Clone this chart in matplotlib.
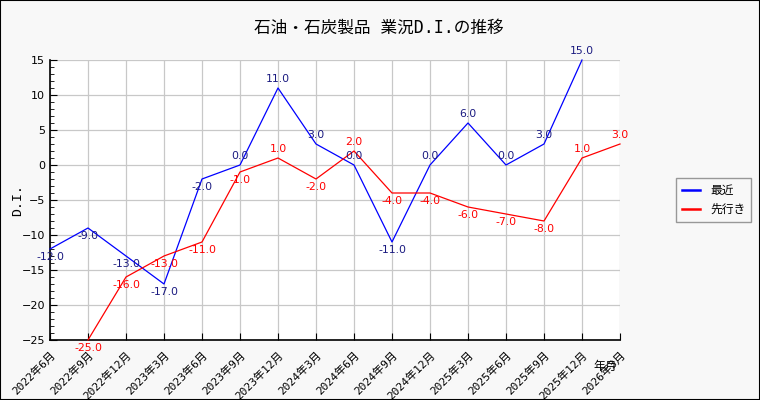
import matplotlib
matplotlib.use("Agg")
import matplotlib.pyplot as plt
from matplotlib.ticker import MultipleLocator
import numpy as np

plt.rcParams['font.family'] = ['DejaVu Sans', 'Noto Sans CJK JP']

categories = ["2022年6月", "2022年9月", "2022年12月", "2023年3月", "2023年6月",
              "2023年9月", "2023年12月", "2024年3月", "2024年6月", "2024年9月",
              "2024年12月", "2025年3月", "2025年6月", "2025年9月", "2025年12月",
              "2026年3月"]
recent = [-12, -9, -13, -17, -2, 0, 11, 3, 0, -11, 0, 6, 0, 3, 15, None]
outlook = [None, -25, -16, -13, -11, -1, 1, -2, 2, -4, -4, -6, -7, -8, 1, 3]

title = "石油・石炭製品 業況D.I.の推移"
series_names = ["最近", "先行き"]

fig = plt.figure(figsize=(7.6, 4.0), dpi=100, facecolor='#f8f8f8')
fig.patches.append(plt.Rectangle((0, 0), 1, 1, transform=fig.transFigure,
                                 fill=False, edgecolor='black', linewidth=1.5))
ax = fig.add_axes([50/760, 1-340/400, 570/760, 280/400])
ax.set_facecolor('white')

x = np.arange(len(categories))

def plot_series(vals, color, label_color, name):
    xs = [i for i, v in enumerate(vals) if v is not None]
    ys = [v for v in vals if v is not None]
    ax.plot(xs, ys, color=color, linewidth=0.9, label=name, clip_on=False, zorder=3)
    for xi, yi in zip(xs, ys):
        if yi >= 0:
            ax.annotate(f"{yi:.1f}", (xi, yi), xytext=(0, 3), textcoords='offset points',
                        ha='center', va='bottom', color=label_color, fontsize=7.8,
                        annotation_clip=False, zorder=4)
        else:
            ax.annotate(f"{yi:.1f}", (xi, yi), xytext=(0, -2), textcoords='offset points',
                        ha='center', va='top', color=label_color, fontsize=7.8,
                        annotation_clip=False, zorder=4)

plot_series(recent, '#0000ff', '#1a1a80', series_names[0])
plot_series(outlook, '#ff0000', '#ff0000', series_names[1])

ax.set_xlim(0, len(categories) - 1)
ax.set_ylim(-25, 15)
ax.set_xticks(x)
ax.set_xticklabels(categories, rotation=45, ha='right', rotation_mode='anchor', fontsize=8,
                   family=['DejaVu Sans Mono', 'Noto Sans CJK JP'])
ax.yaxis.set_major_locator(MultipleLocator(5))
ax.yaxis.set_minor_locator(MultipleLocator(1))
ax.tick_params(axis='y', which='major', direction='in', length=5, labelsize=8)
ax.tick_params(axis='y', which='minor', direction='in', length=3)
ax.tick_params(axis='x', which='major', direction='in', length=5, pad=7)
ax.grid(True, which='major', color='#c8c8c8', linewidth=0.9)
ax.set_axisbelow(True)
for s in ['top', 'right']:
    ax.spines[s].set_visible(False)
for s in ['left', 'bottom']:
    ax.spines[s].set_linewidth(1.2)

ax.set_ylabel("D.I.", fontsize=9.5, family=['DejaVu Sans Mono', 'Noto Sans CJK JP'])
ax.yaxis.set_label_coords(-0.045, 0.5)
fig.text(605/760, 1-366/400, "年月", fontsize=8.5, ha='center', va='center')
fig.text(379/760, 1-28/400, title, fontsize=12, ha='center', va='center',
         family=['DejaVu Sans Mono', 'Noto Sans CJK JP'])

leg = fig.legend(loc='center left', bbox_to_anchor=(676/760, 1-200/400), fontsize=8.5,
                 frameon=True, fancybox=False, edgecolor='#808080', facecolor='#f8f8f8',
                 handlelength=1.5, handletextpad=0.9, borderpad=0.5, labelspacing=0.5,
                 borderaxespad=0)
leg.get_frame().set_linewidth(1.0)
for line in leg.get_lines():
    line.set_linewidth(1.8)

fig.savefig("out.png", dpi=100, facecolor=fig.get_facecolor())
